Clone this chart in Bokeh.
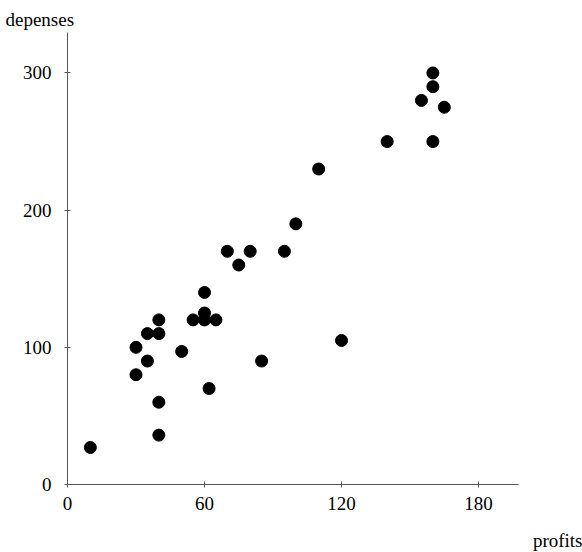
from bokeh.plotting import figure
from bokeh.models import Range1d, FixedTicker, Title, ColumnDataSource
from bokeh.embed import file_html
from bokeh.resources import INLINE

profits = [10, 30, 30, 35, 35, 40, 40, 40, 40, 50, 55, 60, 60, 65, 62, 85,
           60, 70, 80, 75, 95, 100, 110, 120, 160, 160, 155, 165, 140, 160]
depenses = [27, 100, 80, 110, 90, 120, 110, 60, 36, 97, 120, 125, 120, 120, 70, 90,
            140, 170, 170, 160, 170, 190, 230, 105, 300, 290, 280, 275, 250, 250]
x_ticks = [0, 60, 120, 180]
y_ticks = [0, 100, 200, 300]

FONT = "Liberation Serif"

p = figure(width=582, height=552, output_backend="svg", toolbar_location=None,
           x_range=Range1d(0, 197.5), y_range=Range1d(0, 329.5),
           min_border_left=67, min_border_right=64, min_border_top=32, min_border_bottom=68)
p.outline_line_color = None
p.xgrid.visible = False
p.ygrid.visible = False

src = ColumnDataSource(dict(x=profits, y=depenses))
p.scatter("x", "y", source=src, size=12, fill_color="black", line_color="black")

for ax, ticks in ((p.xaxis[0], x_ticks), (p.yaxis[0], y_ticks)):
    ax.ticker = FixedTicker(ticks=ticks)
    ax.minor_tick_line_color = None
    ax.major_tick_in = 3
    ax.major_tick_out = 3
    ax.axis_line_color = "#555555"
    ax.major_tick_line_color = "#555555"
    ax.major_label_text_font = FONT
    ax.major_label_text_font_size = "19px"
    ax.major_label_text_color = "black"
p.xaxis.major_label_standoff = 9
p.yaxis.major_label_standoff = 13

# blank spacer label to push the "profits" title lower
p.xaxis.axis_label = " "
p.xaxis.axis_label_text_font_size = "8px"
p.xaxis.axis_label_standoff = 5

p.title.text = "depenses"
p.title.align = "left"
p.title.offset = -62
p.title.text_font = FONT
p.title.text_font_size = "19px"
p.title.text_font_style = "normal"
p.title.text_color = "black"
p.title.standoff = 6

p.add_layout(Title(text="profits", align="right", offset=-64, text_font=FONT,
                   text_font_size="19px", text_font_style="normal", text_color="black",
                   vertical_align="top", standoff=0), "below")

open("out.html", "w").write(file_html(p, INLINE))
